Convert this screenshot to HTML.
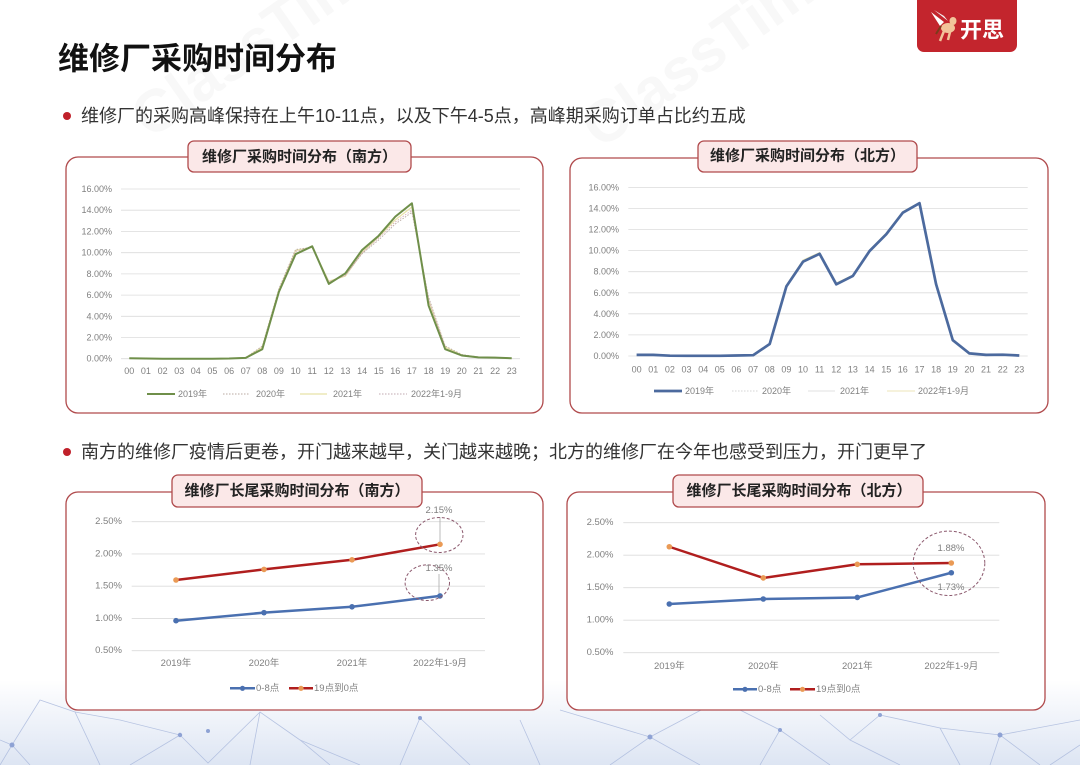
<!DOCTYPE html>
<html><head><meta charset="utf-8">
<style>
html,body{margin:0;padding:0;background:#fff;}
svg{display:block;}
text{font-family:"Liberation Sans","Noto Sans CJK SC",sans-serif;}
.tk{font-size:9px;fill:#808080;}
.tk2{font-size:9.5px;fill:#808080;}
.tab{font-size:15px;font-weight:bold;fill:#222;}
.grid{stroke:#dcdcdc;stroke-width:0.8;}
</style></head>
<body>
<svg width="1080" height="765" viewBox="0 0 1080 765" xmlns="http://www.w3.org/2000/svg">
<defs>
<linearGradient id="bg" x1="0" y1="0" x2="0" y2="1">
<stop offset="0" stop-color="#ffffff"/>
<stop offset="1" stop-color="#dde5f3"/>
</linearGradient>
</defs>
<rect width="1080" height="765" fill="#fff"/>
<rect x="0" y="680" width="1080" height="85" fill="url(#bg)"/>
<g stroke="#a9b8dc" stroke-width="0.8" fill="none" opacity="0.8">
<path d="M0,740 L12,745 L40,700 L75,712 L100,765"/>
<path d="M12,745 L0,765 M12,745 L30,765"/>
<path d="M75,712 L120,720 L180,735 L130,765"/>
<path d="M180,735 L208,763 L260,712 L300,740 L330,765"/>
<path d="M260,712 L250,765 M300,740 L360,765"/>
<path d="M420,718 L400,765 M420,718 L470,765 M520,720 L540,765"/>
<path d="M560,710 L650,737 L700,765 M650,737 L610,765 M650,737 L720,700"/>
<path d="M720,700 L780,730 L830,765 M780,730 L760,765"/>
<path d="M820,715 L850,740 L900,765 M850,740 L880,715"/>
<path d="M880,715 L940,728 L960,765 M940,728 L1000,735 L1040,765"/>
<path d="M1000,735 L1080,720 M1000,735 L990,765 M1080,745 L1050,765"/>
</g>
<g fill="#8ea2d4">
<circle cx="12" cy="745" r="2.5"/><circle cx="180" cy="735" r="2.2"/><circle cx="208" cy="731" r="2"/>
<circle cx="650" cy="737" r="2.5"/><circle cx="880" cy="715" r="2"/><circle cx="1000" cy="735" r="2.5"/>
<circle cx="420" cy="718" r="2"/><circle cx="780" cy="730" r="2"/>
</g>
<!-- watermark -->
<g fill="#f8f8f8" font-size="60" font-weight="bold">
<text x="150" y="140" transform="rotate(-35 150 140)" font-family="Liberation Sans">ClassTime</text>
<text x="600" y="150" transform="rotate(-35 600 150)" font-family="Liberation Sans">ClassTime</text>
</g>

<!-- logo -->
<rect x="917" y="-8" width="100" height="60" rx="7" fill="#c3252d"/>
<path d="M931,12 L944,22 L940,26 Z" fill="#fff"/>
<path d="M934,10 L948,21 L944,16 Z" fill="#f2f2f2"/>
<ellipse cx="948" cy="28" rx="7" ry="5" fill="#f2c49a"/>
<ellipse cx="953" cy="21" rx="3.5" ry="4" fill="#f2c49a"/>
<path d="M944,31 L940,41 M950,32 L948,40" stroke="#f2c49a" stroke-width="2.5"/>
<path d="M941,26 L936,34" stroke="#7a3a1a" stroke-width="2"/>
<text x="982" y="30" font-size="22" font-weight="bold" fill="#fff" text-anchor="middle" dominant-baseline="central">开思</text>

<!-- title -->
<text x="58" y="59" font-size="31" font-weight="bold" fill="#111" dominant-baseline="central">维修厂采购时间分布</text>
<circle cx="67" cy="116" r="4" fill="#c0202a"/>
<text x="81" y="116" font-size="18" fill="#333" dominant-baseline="central">维修厂的采购高峰保持在上午10-11点，以及下午4-5点，高峰期采购订单占比约五成</text>
<circle cx="67" cy="452" r="4" fill="#c0202a"/>
<text x="81" y="452" font-size="18" fill="#333" dominant-baseline="central">南方的维修厂疫情后更卷，开门越来越早，关门越来越晚；北方的维修厂在今年也感受到压力，开门更早了</text>

<!-- ========== Chart 1 ========== -->
<rect x="66" y="157" width="477" height="256" rx="12" fill="#fff" stroke="#b04a4c" stroke-width="1.3"/>
<rect x="188" y="141" width="223" height="31" rx="6" fill="#fbe8e8" stroke="#b04a4c" stroke-width="1.3"/>
<text class="tab" x="299.5" y="157" text-anchor="middle" dominant-baseline="central">维修厂采购时间分布（南方）</text>
<g class="grid">
<line x1="121" x2="520" y1="358.7" y2="358.7"/><line x1="121" x2="520" y1="337.5" y2="337.5"/>
<line x1="121" x2="520" y1="316.3" y2="316.3"/><line x1="121" x2="520" y1="295.1" y2="295.1"/>
<line x1="121" x2="520" y1="273.9" y2="273.9"/><line x1="121" x2="520" y1="252.7" y2="252.7"/>
<line x1="121" x2="520" y1="231.4" y2="231.4"/><line x1="121" x2="520" y1="210.2" y2="210.2"/>
<line x1="121" x2="520" y1="189" y2="189"/>
</g>
<g class="tk" text-anchor="end" dominant-baseline="central">
<text x="112" y="358.7">0.00%</text><text x="112" y="337.5">2.00%</text><text x="112" y="316.3">4.00%</text>
<text x="112" y="295.1">6.00%</text><text x="112" y="273.9">8.00%</text><text x="112" y="252.7">10.00%</text>
<text x="112" y="231.4">12.00%</text><text x="112" y="210.2">14.00%</text><text x="112" y="189">16.00%</text>
</g>
<g class="tk" text-anchor="middle" dominant-baseline="central">
<text x="129.3" y="371">00</text><text x="145.9" y="371">01</text><text x="162.6" y="371">02</text><text x="179.2" y="371">03</text>
<text x="195.8" y="371">04</text><text x="212.4" y="371">05</text><text x="229.1" y="371">06</text><text x="245.7" y="371">07</text>
<text x="262.3" y="371">08</text><text x="278.9" y="371">09</text><text x="295.6" y="371">10</text><text x="312.2" y="371">11</text>
<text x="328.8" y="371">12</text><text x="345.4" y="371">13</text><text x="362.1" y="371">14</text><text x="378.7" y="371">15</text>
<text x="395.3" y="371">16</text><text x="411.9" y="371">17</text><text x="428.6" y="371">18</text><text x="445.2" y="371">19</text>
<text x="461.8" y="371">20</text><text x="478.4" y="371">21</text><text x="495.1" y="371">22</text><text x="511.7" y="371">23</text>
</g>
<polyline fill="none" stroke="#e8e2a8" stroke-width="1.3" points="129.3,358.2 145.9,358.5 162.6,358.7 179.2,358.7 195.8,358.7 212.4,358.7 229.1,358.5 245.7,357.7 262.3,347 278.9,289.8 295.6,250.5 312.2,247.3 328.8,281.3 345.4,276 362.1,252.6 378.7,236.7 395.3,219.8 411.9,207 428.6,300.4 445.2,347 461.8,355 478.4,357.2 495.1,357.5 511.7,358.2"/>
<polyline fill="none" stroke="#b8a8a0" stroke-width="0.9" stroke-dasharray="1.5,1.5" points="129.3,358.2 145.9,358.5 162.6,358.7 179.2,358.7 195.8,358.7 212.4,358.7 229.1,358.5 245.7,357.7 262.3,346 278.9,288.7 295.6,249.5 312.2,247.3 328.8,282.3 345.4,274.9 362.1,253.7 378.7,239.9 395.3,224 411.9,212.3 428.6,297.2 445.2,346 461.8,354.5 478.4,357 495.1,357.5 511.7,358.2"/>
<polyline fill="none" stroke="#d8b0b8" stroke-width="0.9" stroke-dasharray="1.5,1.5" points="262.3,347.5 278.9,290.5 295.6,251.5 312.2,247 328.8,282 345.4,275.5 362.1,253 378.7,238 395.3,222 411.9,210.2 428.6,299.3 445.2,347"/>
<polyline fill="none" stroke="#6f8f4a" stroke-width="2" stroke-linejoin="round" points="129.3,358.2 145.9,358.5 162.6,358.7 179.2,358.7 195.8,358.7 212.4,358.7 229.1,358.5 245.7,357.9 262.3,349.2 278.9,291.9 295.6,254.2 312.2,246.3 328.8,283.9 345.4,273.3 362.1,250 378.7,235.7 395.3,216.6 411.9,203.3 428.6,305.7 445.2,349.2 461.8,355.5 478.4,357.4 495.1,357.6 511.7,358.2"/>
<line x1="147" x2="175" y1="394" y2="394" stroke="#6f8f4a" stroke-width="2"/>
<line x1="223" x2="250" y1="394" y2="394" stroke="#b8a8a0" stroke-width="0.9" stroke-dasharray="1.5,1.5"/>
<line x1="300" x2="327" y1="394" y2="394" stroke="#e8e2a8" stroke-width="1.2"/>
<line x1="379" x2="407" y1="394" y2="394" stroke="#c0a8b0" stroke-width="0.9" stroke-dasharray="1.5,1.5"/>
<g class="tk" dominant-baseline="central">
<text x="178" y="394">2019年</text><text x="256" y="394">2020年</text><text x="333" y="394">2021年</text><text x="411" y="394">2022年1-9月</text>
</g>

<!-- ========== Chart 2 ========== -->
<rect x="570" y="158" width="478" height="255" rx="12" fill="#fff" stroke="#b04a4c" stroke-width="1.3"/>
<rect x="698" y="141" width="219" height="31" rx="6" fill="#fbe8e8" stroke="#b04a4c" stroke-width="1.3"/>
<text class="tab" x="807.5" y="156" text-anchor="middle" dominant-baseline="central">维修厂采购时间分布（北方）</text>
<g class="grid">
<line x1="628.3" x2="1027.7" y1="356" y2="356"/><line x1="628.3" x2="1027.7" y1="334.9" y2="334.9"/>
<line x1="628.3" x2="1027.7" y1="313.8" y2="313.8"/><line x1="628.3" x2="1027.7" y1="292.8" y2="292.8"/>
<line x1="628.3" x2="1027.7" y1="271.7" y2="271.7"/><line x1="628.3" x2="1027.7" y1="250.6" y2="250.6"/>
<line x1="628.3" x2="1027.7" y1="229.5" y2="229.5"/><line x1="628.3" x2="1027.7" y1="208.5" y2="208.5"/>
<line x1="628.3" x2="1027.7" y1="187.4" y2="187.4"/>
</g>
<g class="tk" text-anchor="end" dominant-baseline="central">
<text x="619" y="356">0.00%</text><text x="619" y="334.9">2.00%</text><text x="619" y="313.8">4.00%</text>
<text x="619" y="292.8">6.00%</text><text x="619" y="271.7">8.00%</text><text x="619" y="250.6">10.00%</text>
<text x="619" y="229.5">12.00%</text><text x="619" y="208.5">14.00%</text><text x="619" y="187.4">16.00%</text>
</g>
<g class="tk" text-anchor="middle" dominant-baseline="central">
<text x="636.6" y="369.3">00</text><text x="653.2" y="369.3">01</text><text x="669.9" y="369.3">02</text><text x="686.5" y="369.3">03</text>
<text x="703.2" y="369.3">04</text><text x="719.8" y="369.3">05</text><text x="736.4" y="369.3">06</text><text x="753.1" y="369.3">07</text>
<text x="769.7" y="369.3">08</text><text x="786.4" y="369.3">09</text><text x="803" y="369.3">10</text><text x="819.6" y="369.3">11</text>
<text x="836.3" y="369.3">12</text><text x="852.9" y="369.3">13</text><text x="869.6" y="369.3">14</text><text x="886.2" y="369.3">15</text>
<text x="902.8" y="369.3">16</text><text x="919.5" y="369.3">17</text><text x="936.1" y="369.3">18</text><text x="952.8" y="369.3">19</text>
<text x="969.4" y="369.3">20</text><text x="986" y="369.3">21</text><text x="1002.7" y="369.3">22</text><text x="1019.3" y="369.3">23</text>
</g>
<polyline fill="none" stroke="#e8e4b0" stroke-width="1" points="769.7,343 786.4,285 803,260 819.6,252.5 836.3,283 852.9,275 869.6,250 886.2,233 902.8,211.5 919.5,202.5 936.1,283 952.8,339.5"/>
<polyline fill="none" stroke="#4c6a9e" stroke-width="2.7" stroke-linejoin="round" points="636.6,354.9 653.2,354.9 669.9,355.7 686.5,355.8 703.2,355.8 719.8,355.8 736.4,355.5 753.1,355.2 769.7,344 786.4,286.4 803,261.7 819.6,253.8 836.3,284.3 852.9,275.9 869.6,251 886.2,234.3 902.8,212.7 919.5,203.2 936.1,284.3 952.8,340.2 969.4,353.4 986,354.9 1002.7,354.7 1019.3,355.5"/>
<line x1="654" x2="682" y1="391" y2="391" stroke="#4c6a9e" stroke-width="2.7"/>
<line x1="732" x2="758" y1="391" y2="391" stroke="#c8c8c8" stroke-width="0.8" stroke-dasharray="1.5,1.5"/>
<line x1="808" x2="835" y1="391" y2="391" stroke="#d8d8d8" stroke-width="0.8"/>
<line x1="887" x2="915" y1="391" y2="391" stroke="#ece6b8" stroke-width="1"/>
<g class="tk" dominant-baseline="central">
<text x="685" y="391">2019年</text><text x="762" y="391">2020年</text><text x="840" y="391">2021年</text><text x="918" y="391">2022年1-9月</text>
</g>

<!-- ========== Chart 3 ========== -->
<rect x="66" y="492" width="477" height="218" rx="12" fill="#fff" stroke="#b04a4c" stroke-width="1.3"/>
<rect x="172" y="475" width="250" height="32" rx="6" fill="#fbe8e8" stroke="#b04a4c" stroke-width="1.3"/>
<text class="tab" x="297" y="491" text-anchor="middle" dominant-baseline="central">维修厂长尾采购时间分布（南方）</text>
<g class="grid">
<line x1="131.7" x2="485" y1="650.7" y2="650.7"/><line x1="131.7" x2="485" y1="618.45" y2="618.45"/>
<line x1="131.7" x2="485" y1="586.2" y2="586.2"/><line x1="131.7" x2="485" y1="553.95" y2="553.95"/>
<line x1="131.7" x2="485" y1="521.7" y2="521.7"/>
</g>
<g class="tk2" text-anchor="end" dominant-baseline="central">
<text x="122" y="650.7">0.50%</text><text x="122" y="618.45">1.00%</text><text x="122" y="586.2">1.50%</text>
<text x="122" y="553.95">2.00%</text><text x="122" y="521.7">2.50%</text>
</g>
<g class="tk2" text-anchor="middle" dominant-baseline="central">
<text x="176" y="663.3">2019年</text><text x="264" y="663.3">2020年</text><text x="352" y="663.3">2021年</text><text x="440" y="663.3">2022年1-9月</text>
</g>
<polyline fill="none" stroke="#4a70b0" stroke-width="2.5" points="176,620.7 264,612.65 352,606.8 440,595.9"/>
<polyline fill="none" stroke="#b01e1e" stroke-width="2.5" points="176,580 264,569.4 352,559.8 440,544.3"/>
<g fill="#4a70b0"><circle cx="176" cy="620.7" r="2.8"/><circle cx="264" cy="612.65" r="2.8"/><circle cx="352" cy="606.8" r="2.8"/><circle cx="440" cy="595.9" r="2.8"/></g>
<g fill="#ea9a55"><circle cx="176" cy="580" r="2.8"/><circle cx="264" cy="569.4" r="2.8"/><circle cx="352" cy="559.8" r="2.8"/><circle cx="440" cy="544.3" r="2.8"/></g>
<line x1="440" x2="440" y1="517" y2="542" stroke="#aaa" stroke-width="0.8"/>
<line x1="439" x2="439" y1="574" y2="593" stroke="#aaa" stroke-width="0.8"/>
<ellipse cx="439.3" cy="535" rx="23.7" ry="17.5" fill="none" stroke="#8c5a6e" stroke-width="1" stroke-dasharray="3,2"/>
<ellipse cx="427.3" cy="582.7" rx="22.2" ry="17.8" fill="none" stroke="#8c5a6e" stroke-width="1" stroke-dasharray="3,2"/>
<text class="tk2" x="439" y="510.7" text-anchor="middle" dominant-baseline="central" fill="#666">2.15%</text>
<text class="tk2" x="439" y="568.7" text-anchor="middle" dominant-baseline="central" fill="#666">1.35%</text>
<line x1="230" x2="255" y1="688.3" y2="688.3" stroke="#4a70b0" stroke-width="2.5"/><circle cx="242.5" cy="688.3" r="2.6" fill="#4a70b0"/>
<line x1="289" x2="313" y1="688.3" y2="688.3" stroke="#b01e1e" stroke-width="2.5"/><circle cx="301" cy="688.3" r="2.6" fill="#ea9a55"/>
<g class="tk2" dominant-baseline="central"><text x="256" y="688.3">0-8点</text><text x="314" y="688.3">19点到0点</text></g>

<!-- ========== Chart 4 ========== -->
<rect x="567" y="492" width="478" height="218" rx="12" fill="#fff" stroke="#b04a4c" stroke-width="1.3"/>
<rect x="673" y="475" width="250" height="32" rx="6" fill="#fbe8e8" stroke="#b04a4c" stroke-width="1.3"/>
<text class="tab" x="799" y="491" text-anchor="middle" dominant-baseline="central">维修厂长尾采购时间分布（北方）</text>
<g class="grid">
<line x1="623.3" x2="999.3" y1="652.7" y2="652.7"/><line x1="623.3" x2="999.3" y1="620.2" y2="620.2"/>
<line x1="623.3" x2="999.3" y1="587.7" y2="587.7"/><line x1="623.3" x2="999.3" y1="555.2" y2="555.2"/>
<line x1="623.3" x2="999.3" y1="522.7" y2="522.7"/>
</g>
<g class="tk2" text-anchor="end" dominant-baseline="central">
<text x="613.5" y="652.7">0.50%</text><text x="613.5" y="620.2">1.00%</text><text x="613.5" y="587.7">1.50%</text>
<text x="613.5" y="555.2">2.00%</text><text x="613.5" y="522.7">2.50%</text>
</g>
<g class="tk2" text-anchor="middle" dominant-baseline="central">
<text x="669.3" y="666.7">2019年</text><text x="763.3" y="666.7">2020年</text><text x="857.3" y="666.7">2021年</text><text x="951.3" y="666.7">2022年1-9月</text>
</g>
<polyline fill="none" stroke="#4a70b0" stroke-width="2.5" points="669.3,604 763.3,599 857.3,597.45 951.3,572.75"/>
<polyline fill="none" stroke="#b01e1e" stroke-width="2.5" points="669.3,546.75 763.3,577.95 857.3,564.3 951.3,563"/>
<g fill="#4a70b0"><circle cx="669.3" cy="604" r="2.8"/><circle cx="763.3" cy="599" r="2.8"/><circle cx="857.3" cy="597.45" r="2.8"/><circle cx="951.3" cy="572.75" r="2.8"/></g>
<g fill="#ea9a55"><circle cx="669.3" cy="546.75" r="2.8"/><circle cx="763.3" cy="577.95" r="2.8"/><circle cx="857.3" cy="564.3" r="2.8"/><circle cx="951.3" cy="563" r="2.8"/></g>
<ellipse cx="949" cy="563.3" rx="35.8" ry="32.2" fill="none" stroke="#8c5a6e" stroke-width="1" stroke-dasharray="3,2"/>
<text class="tk2" x="951" y="548.3" text-anchor="middle" dominant-baseline="central" fill="#666">1.88%</text>
<text class="tk2" x="951" y="587.3" text-anchor="middle" dominant-baseline="central" fill="#666">1.73%</text>
<line x1="733" x2="757" y1="689.3" y2="689.3" stroke="#4a70b0" stroke-width="2.5"/><circle cx="745" cy="689.3" r="2.6" fill="#4a70b0"/>
<line x1="790" x2="815" y1="689.3" y2="689.3" stroke="#b01e1e" stroke-width="2.5"/><circle cx="802.5" cy="689.3" r="2.6" fill="#ea9a55"/>
<g class="tk2" dominant-baseline="central"><text x="758" y="689.3">0-8点</text><text x="816" y="689.3">19点到0点</text></g>
</svg>
</body></html>
